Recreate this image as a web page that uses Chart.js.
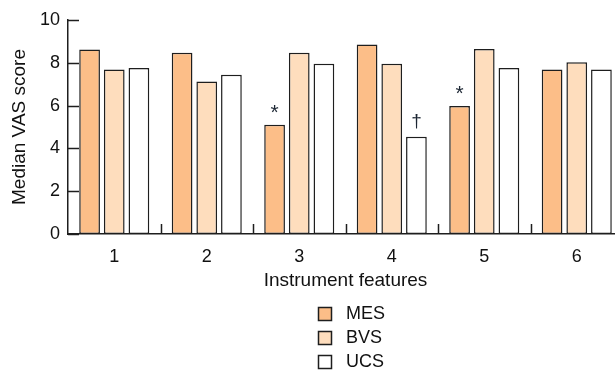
<!DOCTYPE html>
<html>
<head>
<meta charset="utf-8">
<script src="https://cdn.jsdelivr.net/npm/chart.js@4/dist/chart.umd.min.js"></script>
<style>
  html, body { margin: 0; padding: 0; background: #fff; overflow: hidden; }
  #wrap { width: 626px; height: 374px; }
</style>
</head>
<body>
<div id="wrap"><canvas id="c" width="626" height="374"></canvas></div>
<script>
const categories = ["1", "2", "3", "4", "5", "6"];
const seriesNames = ["MES", "BVS", "UCS"];
const mesValues = [8.62, 8.47, 5.1, 8.85, 5.98, 7.69];
const bvsValues = [7.69, 7.13, 8.47, 7.96, 8.64, 8.02];
const ucsValues = [7.76, 7.44, 7.96, 4.55, 7.76, 7.69];
const mesMarks = ["", "", "*", "", "*", ""];
const bvsMarks = ["", "", "", "", "", ""];
const ucsMarks = ["", "", "", "\u2020", "", ""];
const yTicks = [0, 2, 4, 6, 8, 10];
const xTitle = "Instrument features";
const yTitle = "Median VAS score";

const FONT = "'Liberation Sans', Arial, Helvetica, sans-serif";
const INK = "#1e1e1e";
const fills = ["#FCBE88", "#FEDDBD", "#FFFFFF"];
const marks = [mesMarks, bvsMarks, ucsMarks];

const tickMarksPlugin = {
  id: 'tickMarks',
  afterDraw(chart) {
    const ctx = chart.ctx;
    const a = chart.chartArea;
    const ys = chart.scales.y, xs = chart.scales.x;
    ctx.save();
    ctx.strokeStyle = INK;
    ctx.lineWidth = 1.5;
    ys.ticks.forEach(t => {
      const py = Math.round(ys.getPixelForValue(t.value)) + 0.5;
      ctx.beginPath();
      ctx.moveTo(a.left, py);
      ctx.lineTo(a.left + 11, py);
      ctx.stroke();
    });
    for (let i = 1; i < categories.length; i++) {
      const px = Math.round((xs.getPixelForValue(i - 1) + xs.getPixelForValue(i)) / 2) + 0.5;
      ctx.beginPath();
      ctx.moveTo(px, a.bottom);
      ctx.lineTo(px, a.bottom - 10);
      ctx.stroke();
    }
    // significance marks
    ctx.fillStyle = "#1c2633";
    ctx.textAlign = 'center';
    ctx.textBaseline = 'alphabetic';
    chart.data.datasets.forEach((ds, di) => {
      const meta = chart.getDatasetMeta(di);
      meta.data.forEach((bar, j) => {
        const m = marks[di][j];
        if (!m) return;
        ctx.font = (m === "*" ? "21px " : "19px ") + FONT;
        ctx.fillText(m, bar.x, bar.y - (m === "*" ? 6 : 10));
      });
    });
    // legend (vertical, below)
    ctx.font = "18px " + FONT;
    ctx.textBaseline = 'middle';
    ctx.textAlign = 'left';
    const box = 13, gap = 15, rowH = 24;
    let maxW = 0;
    chart.data.datasets.forEach(ds => { maxW = Math.max(maxW, ctx.measureText(ds.label).width); });
    const blockW = box + gap + maxW;
    const left = Math.round((a.left + a.right) / 2 - blockW / 2) + 6;
    const top = a.bottom + 79;
    chart.data.datasets.forEach((ds, i) => {
      const cy = top + i * rowH;
      ctx.fillStyle = ds.backgroundColor;
      ctx.fillRect(left + 0.5, Math.round(cy - box / 2) + 0.5, box, box);
      ctx.lineWidth = 1.5;
      ctx.strokeStyle = INK;
      ctx.strokeRect(left + 0.5, Math.round(cy - box / 2) + 0.5, box, box);
      ctx.fillStyle = "#111";
      ctx.fillText(ds.label, left + box + gap, cy + 1);
    });
    ctx.restore();
  }
};

const valueSets = [mesValues, bvsValues, ucsValues];
new Chart(document.getElementById('c'), {
  type: 'bar',
  data: {
    labels: categories,
    datasets: seriesNames.map((n, i) => ({
      label: n,
      data: valueSets[i],
      backgroundColor: fills[i],
      borderColor: INK,
      borderWidth: 1.5,
      borderSkipped: false,
      categoryPercentage: 0.8,
      barPercentage: 0.84
    }))
  },
  options: {
    responsive: false,
    animation: false,
    events: [],
    layout: { padding: { top: 20, left: 0, right: 3, bottom: 80 } },
    plugins: {
      legend: { display: false },
      tooltip: { enabled: false }
    },
    scales: {
      x: {
        grid: { display: false, drawTicks: false },
        border: { display: true, color: INK, width: 1.5 },
        ticks: { color: "#111", font: { family: FONT, size: 18 }, padding: 12 },
        title: { display: true, text: xTitle, color: "#111", font: { family: FONT, size: 19 }, padding: { top: 4, bottom: 2 } },
        afterFit: (s) => { s.height = 60; }
      },
      y: {
        min: 0, max: 10,
        afterBuildTicks: (s) => { s.ticks = yTicks.map(v => ({ value: v })); },
        grid: { display: false, drawTicks: false },
        border: { display: true, color: INK, width: 1.5 },
        ticks: { color: "#111", font: { family: FONT, size: 18 }, padding: 8 },
        title: { display: true, text: yTitle, color: "#111", font: { family: FONT, size: 19 }, padding: { top: 8, bottom: 4 } },
        afterFit: (s) => { s.width = 68; }
      }
    }
  },
  plugins: [tickMarksPlugin]
});
</script>
</body>
</html>
